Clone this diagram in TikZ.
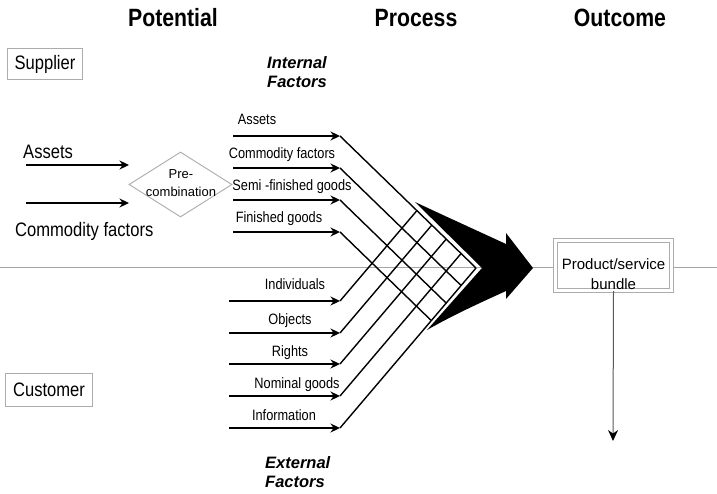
\documentclass[tikz,border=0pt]{standalone}
\usepackage{fontspec}
\setmainfont{Liberation Sans}
\newfontfamily\narrowsf[FakeStretch=0.85]{Liberation Sans}
\usetikzlibrary{arrows.meta,shapes.geometric}

\begin{document}
\begin{tikzpicture}[x=1pt,y=-1pt,
  heading/.style={font=\narrowsf\bfseries\fontsize{25}{28}\selectfont, anchor=base, inner sep=0},
  sidelabel/.style={font=\narrowsf\fontsize{19.5}{23}\selectfont, anchor=base west, inner sep=0},
  factor/.style={font=\narrowsf\fontsize{15}{18}\selectfont, anchor=base, inner sep=0},
  group/.style={font=\bfseries\itshape\fontsize{16.5}{19.5}\selectfont, align=left, anchor=west, inner sep=0},
  partybox/.style={draw=gray!65, line width=1pt, fill=white, inner sep=0,
    font=\narrowsf\fontsize{19.5}{23}\selectfont},
  feed/.style={line width=2.3pt, -{Stealth[length=9.5pt,width=9pt]}},
  mesh/.style={line width=1.4pt},
  axis/.style={draw=gray!70, line width=1pt},
]
% canvas
\fill[white] (0,0) rectangle (717,494);
\useasboundingbox (0,0) rectangle (717,494);

% horizontal divider between supplier and customer side
\coordinate (hl) at (0,268);
\coordinate (hr) at (717,268);
\draw[axis] (hl) -- (hr);

% column headings
\node[heading] (hpot)  at (173,27) {Potential};
\node[heading] (hproc) at (416,27) {Process};
\node[heading] (hout)  at (620,27) {Outcome};

% parties
\node[partybox, minimum width=75pt, minimum height=31pt] (supplier) at (45,64) {Supplier};
\node[partybox, minimum width=87pt, minimum height=33pt] (customer) at (49,390) {Customer};

% supplier inputs and pre-combination
\node[sidelabel] (lassets) at (23,159) {Assets};
\node[sidelabel] (lcomm) at (15,237) {Commodity factors};
\coordinate (sa1) at (26,165);
\coordinate (sa2) at (129,165);
\coordinate (sb1) at (26,203);
\coordinate (sb2) at (129,203);
\draw[feed] (sa1) -- (sa2);
\draw[feed] (sb1) -- (sb2);
\node[diamond, draw=gray!65, line width=0.9pt, minimum width=103pt, minimum height=65pt,
      inner sep=0] (precomb) at (180.5,184.5) {};
\node[font=\fontsize{13}{18}\selectfont, align=center, inner sep=0] (precomblbl)
      at (181,183) {Pre-\\combination};

% group headings
\node[group] (internal) at (267,72) {Internal\\Factors};
\node[group] (external) at (265,472) {External\\Factors};

% internal factors: arrow starts, arrow tips, mesh ends
\foreach \i/\y/\ex/\ey in {1/136/476/268, 2/168/461.1/285.5, 3/200/446.2/303.1, 4/232/431.3/320.6}{
  \coordinate (is\i) at (233,\y);
  \coordinate (it\i) at (340,\y);
  \coordinate (ie\i) at (\ex,\ey);
}
% external factors
\foreach \j/\y/\ex/\ey in {1/301/416.9/210.6, 2/333/431.8/225.1, 3/364/446.2/239.1, 4/396/461.1/253.5, 5/428/476/268}{
  \coordinate (es\j) at (229,\y);
  \coordinate (et\j) at (340,\y);
  \coordinate (ee\j) at (\ex,\ey);
}

\node[factor] (fa) at (257,125) {Assets};
\node[factor] (fb) at (282,159) {Commodity factors};
\node[factor] (fc) at (292,191) {Semi -finished goods};
\node[factor] (fd) at (279,223) {Finished goods};
\node[factor] (fe) at (295,290) {Individuals};
\node[factor] (ff) at (290,324) {Objects};
\node[factor] (fg) at (290,356) {Rights};
\node[factor] (fh) at (297,388) {Nominal goods};
\node[factor] (fi) at (284,420) {Information};

\foreach \i in {1,...,4}{
  \draw[feed] (is\i) -- (it\i);
  \draw[mesh] (it\i) -- (ie\i);
}
\foreach \j in {1,...,5}{
  \draw[feed] (es\j) -- (et\j);
  \draw[mesh] (et\j) -- (ee\j);
}

% combining process arrow
\fill[black] (415,202) -- (482,268) -- (427,330)
  .. controls (455,314) and (482,302) .. (506,291) -- (506,299) -- (533,268)
  -- (506,233) -- (506,244) .. controls (480,232) and (447,217) .. (415,202) -- cycle;

% outcome
\node[draw=gray!65, double, double distance=3pt, line width=1pt, fill=white,
      minimum width=116pt, minimum height=50pt, inner sep=0] (bundle) at (613.5,265.5) {};
\node[font=\fontsize{15}{20}\selectfont, align=center, inner sep=0] (bundlelbl)
      at (613.5,274) {Product/service\\bundle};
\coordinate (outend) at (613,441);
\draw[black!65, line width=1pt, -{Stealth[length=11pt,width=10pt,black]}] (bundle.south) -- (outend);
\end{tikzpicture}
\end{document}
